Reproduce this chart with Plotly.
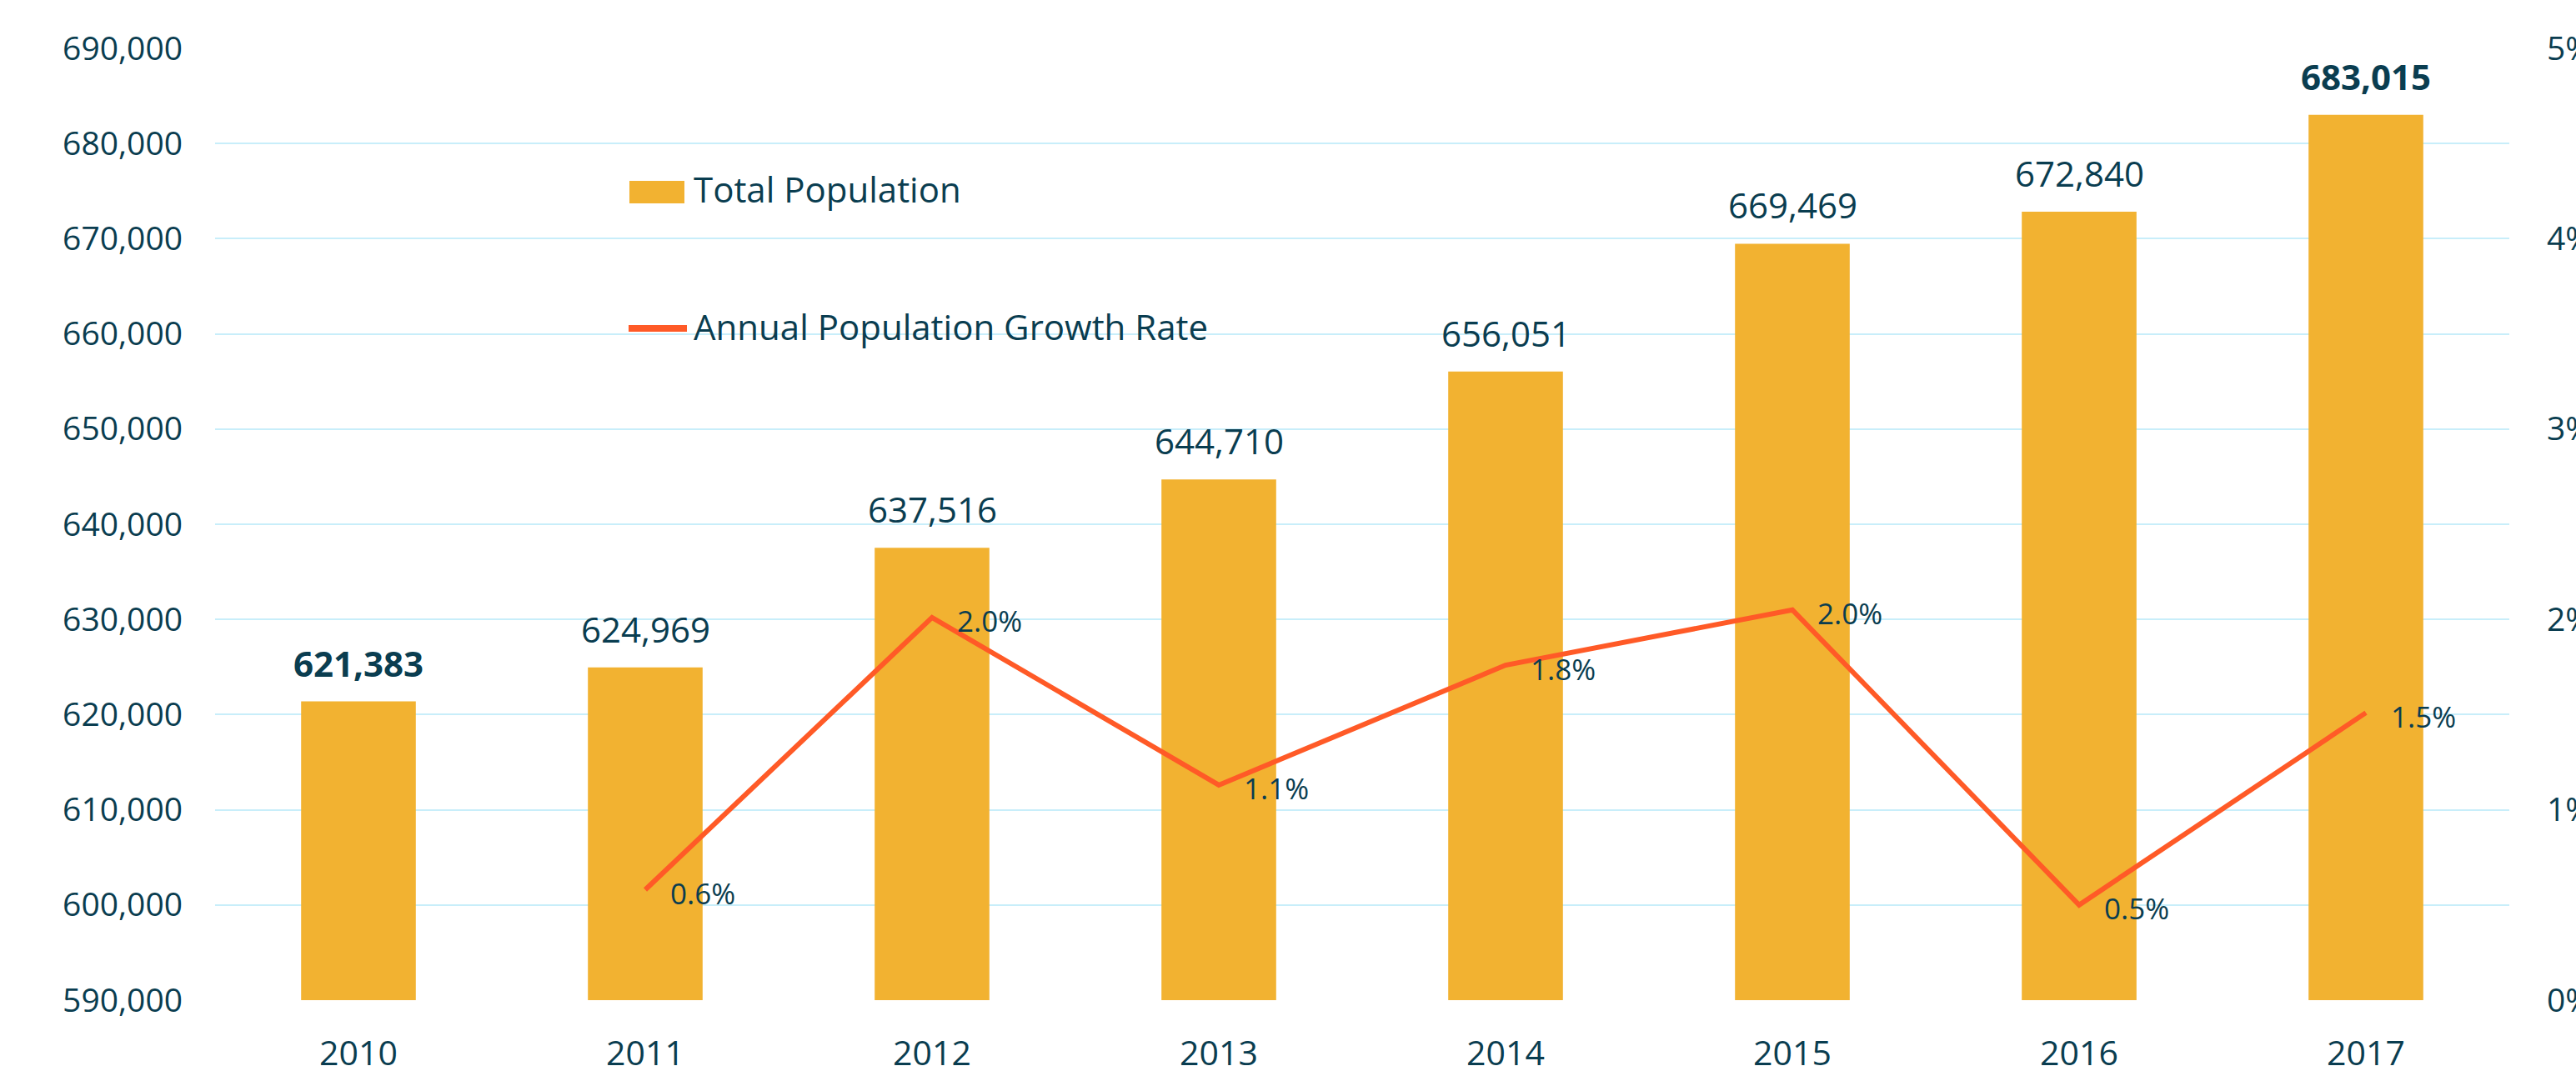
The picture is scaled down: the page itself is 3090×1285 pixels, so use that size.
import plotly.graph_objects as go

years = ["2010", "2011", "2012", "2013", "2014", "2015", "2016", "2017"]
population = [621383, 624969, 637516, 644710, 656051, 669469, 672840, 683015]
pop_labels = ["621,383", "624,969", "637,516", "644,710", "656,051", "669,469", "672,840", "683,015"]
bold_label = [True, False, False, False, False, False, False, True]

growth_years = ["2011", "2012", "2013", "2014", "2015", "2016", "2017"]
growth_rate = [0.58, 2.01, 1.13, 1.76, 2.05, 0.50, 1.51]
growth_labels = ["0.6%", "2.0%", "1.1%", "1.8%", "2.0%", "0.5%", "1.5%"]

left_ticks = [590000, 600000, 610000, 620000, 630000, 640000, 650000, 660000, 670000, 680000, 690000]
right_ticks = [0, 1, 2, 3, 4, 5]
right_tick_text = ["0%", "1%", "2%", "3%", "4%", "5%"]

TEXT = "#0A3D50"
BAR = "#F2B231"
LINE = "#FF5A27"
GRID = "#C8EEFA"
FONT = "Open Sans, sans-serif"

fig = go.Figure()
fig.add_trace(go.Bar(x=years, y=population, marker=dict(color=BAR, line=dict(width=0)),
                     width=0.4, name="Total Population", showlegend=False, hoverinfo="skip"))
fig.add_trace(go.Scatter(x=growth_years, y=growth_rate, yaxis="y2", mode="lines",
                         line=dict(color=LINE, width=6), name="Annual Population Growth Rate",
                         showlegend=False, hoverinfo="skip"))

annotations = []
for yr, v, t, b in zip(years, population, pop_labels, bold_label):
    annotations.append(dict(x=years.index(yr), y=v, xref="x", yref="y", text=f"<b>{t}</b>" if b else t,
                            showarrow=False, yanchor="bottom", xanchor="center", yshift=16,
                            font=dict(family=FONT, size=42, color=TEXT)))
for yr, v, t in zip(growth_years, growth_rate, growth_labels):
    annotations.append(dict(x=years.index(yr), y=v, xref="x", yref="y2", text=t, showarrow=False,
                            xanchor="left", yanchor="middle", xshift=28, yshift=-4,
                            font=dict(family=FONT, size=35, color=TEXT)))

W, H = 3090, 1285
L, R, T, B = 258, 80, 58, 85
pw, ph = W - L - R, H - T - B


def px(x):
    return (x - L) / pw


def py(y):
    return (H - B - y) / ph


# legend drawn manually
annotations.append(dict(x=px(830), y=py(226), xref="paper", yref="paper", text="Total Population",
                        showarrow=False, xanchor="left", yanchor="middle",
                        font=dict(family=FONT, size=42, color=TEXT)))
annotations.append(dict(x=px(830), y=py(392), xref="paper", yref="paper",
                        text="Annual Population Growth Rate", showarrow=False, xanchor="left",
                        yanchor="middle", font=dict(family=FONT, size=42, color=TEXT)))

shapes = [
    dict(type="rect", xref="paper", yref="paper", x0=px(755), x1=px(821), y0=py(244), y1=py(217),
         fillcolor=BAR, line=dict(width=0)),
    dict(type="line", xref="paper", yref="paper", x0=px(754), x1=px(824), y0=py(394), y1=py(394),
         line=dict(color=LINE, width=8)),
]

fig.update_layout(
    width=W, height=H,
    margin=dict(l=L, r=R, t=T, b=B, autoexpand=False),
    paper_bgcolor="white", plot_bgcolor="white",
    font=dict(family=FONT, color=TEXT),
    annotations=annotations,
    shapes=shapes,
    xaxis=dict(type="category", range=[-0.5, 7.5], showgrid=False, showline=False, zeroline=False,
               automargin=False,
               tickfont=dict(family=FONT, size=41, color=TEXT), ticklabelstandoff=36),
    yaxis=dict(range=[590000, 690000], tickvals=left_ticks, tickformat=",", automargin=False,
               showgrid=True, gridcolor=GRID, gridwidth=2, zeroline=False, showline=False,
               tickfont=dict(family=FONT, size=39, color=TEXT), ticklabelstandoff=38),
    yaxis2=dict(range=[0, 5], tickvals=right_ticks, ticktext=right_tick_text, overlaying="y",
                side="right", showgrid=False, zeroline=False, showline=False, automargin=False,
                tickfont=dict(family=FONT, size=39, color=TEXT), ticklabelstandoff=44),
)

fig.write_html("out.html", config={"displayModeBar": False},
               post_script="document.body.style.margin='0';document.body.style.overflow='hidden';")
